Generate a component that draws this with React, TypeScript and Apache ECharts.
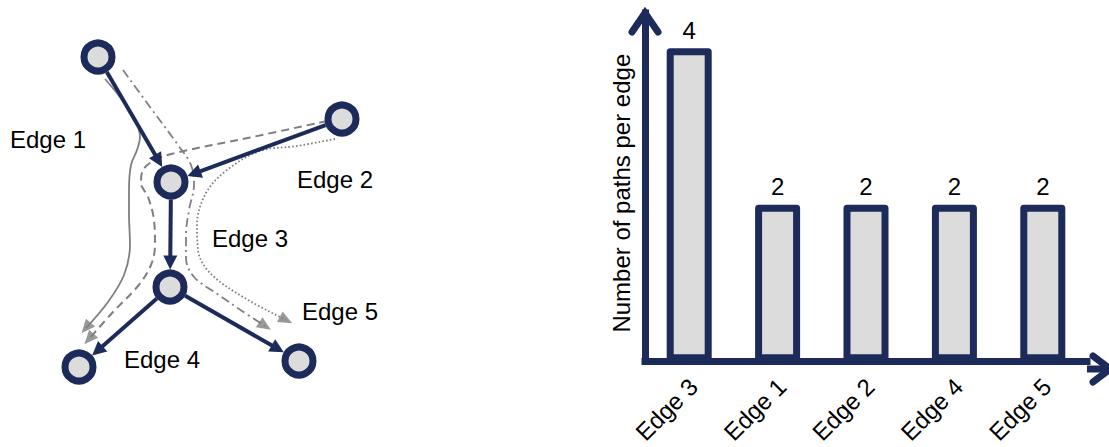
import React, { useEffect, useRef } from 'react';
import * as echarts from 'echarts';

// ---------- bar chart data ----------
const categories = ['Edge 3', 'Edge 1', 'Edge 2', 'Edge 4', 'Edge 5'];
const pathsPerEdge = [4, 2, 2, 2, 2];
const yAxisName = 'Number of paths per edge';

// ---------- network diagram data (diagram units) ----------
const nodeX = [98, 342, 171, 170, 79, 299];
const nodeY = [57, 119, 182, 287, 367, 361];
const edgeSource = [0, 1, 2, 3, 3];
const edgeTarget = [2, 2, 3, 4, 5];
const edgeNames = ['Edge 1', 'Edge 2', 'Edge 3', 'Edge 4', 'Edge 5'];

// the four paths drawn through the network
const pathSolid = [[105, 79], [120, 97], [134, 117], [140, 137], [137, 150], [131, 165], [129, 190], [129, 215], [130, 245], [124, 275], [108, 302], [86, 328]];
const pathDashed = [[327, 121], [250, 137.5], [175, 153], [155, 160], [143, 170], [141, 183], [148, 197], [154, 220], [155, 245], [151, 265], [138, 286], [113, 312], [89, 339]];
const pathDashDot = [[123, 70], [150, 107], [178, 145], [191, 165], [194, 185], [189, 210], [186, 235], [186, 258], [194, 277], [216, 293], [242, 311], [265, 326]];
const pathDotted = [[335, 139], [297, 146], [260, 151], [227, 170], [206, 193], [197, 225], [198, 250], [210, 273], [243, 297], [286, 320]];

const NAVY = '#1c2b5a';
const GRAY = '#7f7f7f';
const FILL = '#dcdcdc';
const FONT = "'Liberation Sans', Arial, sans-serif";
const FS = 24;

function arrowAt(path: number[][]) {
  const n = path.length;
  const [x1, y1] = path[n - 2];
  const [x2, y2] = path[n - 1];
  const rot = (Math.atan2(-(x2 - x1), -(y2 - y1)) * 180) / Math.PI;
  return { value: [x2, y2], symbolRotate: rot };
}

function edgeCoords(i: number) {
  const sx = nodeX[edgeSource[i]], sy = nodeY[edgeSource[i]];
  const tx = nodeX[edgeTarget[i]], ty = nodeY[edgeTarget[i]];
  const len = Math.hypot(tx - sx, ty - sy);
  const ux = (tx - sx) / len, uy = (ty - sy) / len;
  const ring = 17.5, half = 7;
  return [
    [sx + ux * ring, sy + uy * ring],
    [tx - ux * (ring + half), ty - uy * (ring + half)],
  ];
}

export default function App() {
  const ref = useRef<HTMLDivElement>(null);
  useEffect(() => {
    if (!ref.current) return;
    const chart = echarts.init(ref.current, undefined, { renderer: 'svg' });

    const pathSeries = [
      { data: pathSolid, type: 'solid' as any, width: 1.8 },
      { data: pathDashed, type: [8, 5], width: 2 },
      { data: pathDashDot, type: [9, 4, 2, 4], width: 1.8 },
      { data: pathDotted, type: [1.6, 2.2], width: 1.8 },
    ].map((p) => ({
      type: 'line',
      xAxisIndex: 1,
      yAxisIndex: 1,
      data: p.data,
      smooth: 0.35,
      symbol: 'none',
      silent: true,
      z: 2,
      lineStyle: { color: GRAY, width: p.width, type: p.type },
    }));

    const option: any = {
      animation: false,
      grid: [
        { left: 645, top: 13, width: 442, bottom: 78 },
        { left: 0, top: 0, width: 400, height: 447 },
      ],
      xAxis: [
        {
          gridIndex: 0,
          type: 'category',
          data: categories,
          axisTick: { show: false },
          axisLine: { lineStyle: { color: NAVY, width: 7, cap: 'square' } },
          axisLabel: {
            rotate: 45,
            margin: 5,
            fontSize: FS,
            color: '#000',
            fontFamily: FONT,
            align: 'right',
            verticalAlign: 'top',
            padding: [2.5, 8.5, 0, 0],
          },
        },
        { gridIndex: 1, type: 'value', min: 0, max: 400, show: false },
      ],
      yAxis: [
        {
          gridIndex: 0,
          type: 'value',
          min: 0,
          max: 4.45,
          axisLine: { show: true, lineStyle: { color: NAVY, width: 7, cap: 'square' } },
          axisTick: { show: false },
          axisLabel: { show: false },
          splitLine: { show: false },
          name: yAxisName,
          nameLocation: 'middle',
          nameGap: 12,
          nameTextStyle: { fontSize: FS, color: '#000', fontFamily: FONT, padding: [0, 12, 0, 0] },
        },
        { gridIndex: 1, type: 'value', min: 0, max: 447, inverse: true, show: false },
      ],
      series: [
        {
          type: 'bar',
          xAxisIndex: 0,
          yAxisIndex: 0,
          data: pathsPerEdge,
          barWidth: 45,
          itemStyle: { color: FILL, borderColor: NAVY, borderWidth: 7, borderJoin: 'round' },
          label: {
            show: true,
            position: 'top',
            distance: 6,
            fontSize: FS,
            color: '#000',
            fontFamily: FONT,
          },
        },
        ...pathSeries,
        {
          type: 'scatter',
          xAxisIndex: 1,
          yAxisIndex: 1,
          symbol: 'triangle',
          symbolSize: [12, 14],
          itemStyle: { color: GRAY },
          z: 3,
          silent: true,
          data: [pathSolid, pathDashed, pathDashDot, pathDotted].map(arrowAt),
        },
        {
          type: 'lines',
          coordinateSystem: 'cartesian2d',
          xAxisIndex: 1,
          yAxisIndex: 1,
          symbol: ['none', 'triangle'],
          symbolSize: 14,
          z: 4,
          silent: true,
          lineStyle: { color: NAVY, width: 4, opacity: 1 },
          data: edgeNames.map((name, i) => ({ name, coords: edgeCoords(i) })),
        },
        {
          type: 'scatter',
          xAxisIndex: 1,
          yAxisIndex: 1,
          symbol: 'circle',
          symbolSize: 28,
          z: 5,
          silent: true,
          itemStyle: { color: FILL, borderColor: NAVY, borderWidth: 7, opacity: 1 },
          data: nodeX.map((x, i) => [x, nodeY[i]]),
        },
      ],
      graphic: [
        {
          type: 'polyline',
          silent: true,
          shape: { points: [[1087, 369], [1108, 369]] },
          style: { stroke: NAVY, lineWidth: 7, fill: null },
        },
        {
          type: 'polyline',
          silent: true,
          shape: { points: [[1093, 356], [1110, 369], [1093, 382]] },
          style: { stroke: NAVY, lineWidth: 7, lineCap: 'round', lineJoin: 'miter', fill: null },
        },
        {
          type: 'polyline',
          silent: true,
          shape: { points: [[632, 32], [645, 13], [658, 32]] },
          style: { stroke: NAVY, lineWidth: 7, lineCap: 'round', lineJoin: 'miter', fill: null },
        },
        ...[
          [10, 139],
          [297, 179],
          [212, 238],
          [124, 359],
          [302, 311],
        ].map((p, i) => ({
          type: 'text',
          silent: true,
          x: p[0],
          y: p[1],
          style: {
            text: edgeNames[i],
            fontSize: FS,
            fontFamily: FONT,
            fill: '#000',
            verticalAlign: 'middle',
          },
        })),
      ],
    };

    chart.setOption(option);
    return () => chart.dispose();
  }, []);

  return (
    <div
      ref={ref}
      style={{ position: 'fixed', left: 0, top: 0, width: 1109, height: 447, background: '#fff' }}
    />
  );
}
